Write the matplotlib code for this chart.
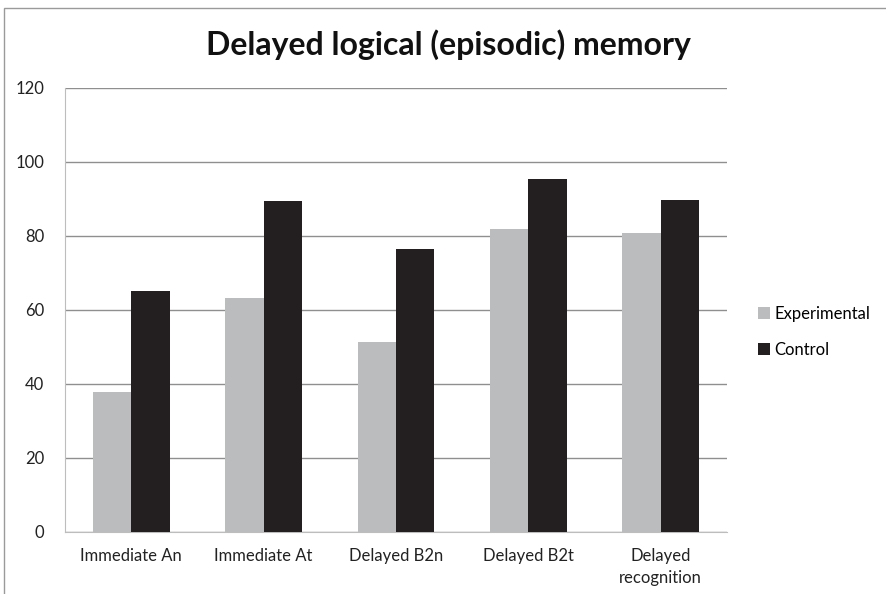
import matplotlib.pyplot as plt
import numpy as np
from matplotlib.patches import Rectangle

plt.rcParams['font.family'] = ['Lato', 'DejaVu Sans']

categories = ["Immediate An", "Immediate At", "Delayed B2n", "Delayed B2t", "Delayed\nrecognition"]
experimental = [37.8, 63.3, 51.3, 81.8, 80.7]
control = [65.0, 89.4, 76.4, 95.5, 89.6]
series_names = ["Experimental", "Control"]

GREY = "#bbbcbe"
BLACK = "#231f20"

fig = plt.figure(figsize=(8.86, 5.94), dpi=100)
ax = fig.add_axes([65 / 886, 62.5 / 594, 662 / 886, 443.5 / 594])

x = np.arange(len(categories))
w = 0.29
ax.bar(x - w / 2, experimental, w, color=GREY, label=series_names[0], zorder=3)
ax.bar(x + w / 2, control, w, color=BLACK, label=series_names[1], zorder=3)

ax.set_xlim(-0.5, len(categories) - 0.5)
ax.set_ylim(0, 120)
ax.set_yticks(range(0, 121, 20))
ax.yaxis.grid(True, color="#8f8f8f", linewidth=1, zorder=0)
ax.set_xticks(x)
ax.set_xticklabels(categories, fontsize=12, color="#222222", linespacing=1.45)
ax.tick_params(axis="x", length=0, pad=12)
ax.tick_params(axis="y", length=0, pad=15, labelsize=12, labelcolor="#222222")

for s in ["top", "right"]:
    ax.spines[s].set_visible(False)
for s in ["left", "bottom"]:
    ax.spines[s].set_color("#bdbdbd")

fig.text(448 / 886, 1 - 45 / 594, "Delayed logical (episodic) memory",
         ha="center", va="center", fontsize=23, fontweight="bold", color="#111111")

ax.legend(loc="center left", bbox_to_anchor=(743 / 886, 1 - 332 / 594),
          bbox_transform=fig.transFigure, frameon=False, fontsize=12,
          handlelength=0.7, handleheight=0.7, handletextpad=0.3, labelspacing=1.2)

fig.patches.append(Rectangle((3.5 / 886, -0.1), 2, (594 - 7.5) / 594 + 0.1,
                             transform=fig.transFigure, fill=False,
                             edgecolor="#9a9a9a", linewidth=1))

fig.savefig("out.png", dpi=100)
